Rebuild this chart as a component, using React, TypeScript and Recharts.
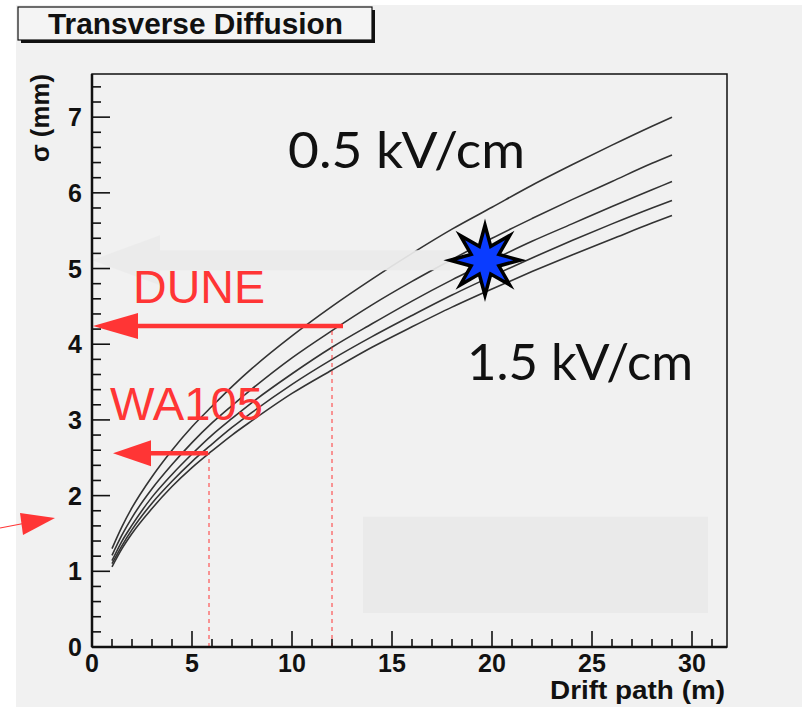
import React from 'react';
import {
  ComposedChart,
  Line,
  Scatter,
  XAxis,
  YAxis,
  ReferenceLine,
  ReferenceArea,
  ReferenceDot,
} from 'recharts';

// ---- data ----
const driftPath = [1, 1.5, 2, 3, 4, 5, 6, 7, 8, 10, 12, 14, 16, 18, 20, 22, 24, 26, 28, 29];
const sigmaA = [1.30, 1.59, 1.84, 2.25, 2.60, 2.91, 3.18, 3.44, 3.68, 4.11, 4.50, 4.86, 5.20, 5.52, 5.81, 6.10, 6.37, 6.63, 6.88, 7.00];
const sigmaB = [1.21, 1.48, 1.71, 2.09, 2.41, 2.70, 2.96, 3.19, 3.41, 3.82, 4.18, 4.52, 4.83, 5.12, 5.40, 5.66, 5.91, 6.15, 6.39, 6.50];
const sigmaC = [1.14, 1.40, 1.61, 1.98, 2.28, 2.55, 2.80, 3.02, 3.23, 3.61, 3.96, 4.27, 4.57, 4.85, 5.11, 5.36, 5.59, 5.82, 6.04, 6.15];
const sigmaD = [1.10, 1.34, 1.55, 1.90, 2.19, 2.45, 2.68, 2.90, 3.10, 3.47, 3.80, 4.10, 4.38, 4.65, 4.90, 5.14, 5.37, 5.59, 5.80, 5.90];
const sigmaE = [1.06, 1.30, 1.50, 1.83, 2.12, 2.37, 2.59, 2.80, 2.99, 3.35, 3.66, 3.96, 4.23, 4.49, 4.73, 4.96, 5.18, 5.39, 5.60, 5.70];

const starPoint = [{ x: 19.65, y: 5.11 }];
const duneArrow = { from: 12.55, to: 0.05, y: 4.24, dropX: 12.0 };
const wa105Arrow = { from: 5.8, to: 1.05, y: 2.56, dropX: 5.85 };
const grayArrow = { from: 17.9, to: 0.0, y: 5.11 };

const xTicks = Array.from({ length: 32 }, (_, i) => i);
const yTicks = Array.from({ length: 38 }, (_, i) => Math.round(i * 2) / 10);

const X_DOMAIN: [number, number] = [0, 31.75];
const Y_DOMAIN: [number, number] = [0, 7.57];

const rows = driftPath.map((x, i) => ({
  x,
  a: sigmaA[i],
  b: sigmaB[i],
  c: sigmaC[i],
  d: sigmaD[i],
  e: sigmaE[i],
}));

const FONT = "'Liberation Sans', Arial, Helvetica, sans-serif";
const RED = '#ff3535';

const isMajor = (v: number, step: number) => Math.abs(v / step - Math.round(v / step)) < 1e-6;

const XTick = (p: any) => {
  const v = p.payload.value;
  const major = isMajor(v, 5);
  return (
    <g>
      <line x1={p.x} x2={p.x} y1={p.y} y2={p.y - (major ? 16 : 8)} stroke="#111" strokeWidth={1.6} />
      {major && (
        <text x={p.x} y={p.y + 25} textAnchor="middle" fontFamily={FONT} fontWeight="bold" fontSize={25} fill="#111">
          {v}
        </text>
      )}
    </g>
  );
};

const YTick = (p: any) => {
  const v = p.payload.value;
  const major = isMajor(v, 1);
  return (
    <g>
      <line x1={p.x} x2={p.x + (major ? 18 : 9)} y1={p.y} y2={p.y} stroke="#111" strokeWidth={1.6} />
      {major && (
        <text x={p.x - 10} y={p.y + 9} textAnchor="end" fontFamily={FONT} fontWeight="bold" fontSize={25} fill="#111">
          {Math.round(v)}
        </text>
      )}
    </g>
  );
};

const redArrowShape = (headLen: number, headHalf: number) => (p: any) => {
  const { x1, y1, x2, y2 } = p;
  const tipX = Math.min(x1, x2);
  const tailX = Math.max(x1, x2);
  const y = y1;
  return (
    <g>
      <line x1={tailX} y1={y} x2={tipX + headLen - 2} y2={y2} stroke={RED} strokeWidth={4.5} />
      <polygon
        points={`${tipX},${y} ${tipX + headLen},${y - headHalf} ${tipX + headLen},${y + headHalf}`}
        fill={RED}
      />
    </g>
  );
};

const grayArrowShape = (p: any) => {
  const { x1, y1, x2 } = p;
  const tipX = Math.min(x1, x2);
  const tailX = Math.max(x1, x2);
  const y = y1;
  const headLen = 68;
  return (
    <g opacity={0.93}>
      <polygon
        points={`${tipX},${y} ${tipX + headLen},${y - 25} ${tipX + headLen},${y - 10} ${tailX},${y - 10} ${tailX},${y + 10} ${tipX + headLen},${y + 10} ${tipX + headLen},${y + 25}`}
        fill="#ebebeb"
      />
    </g>
  );
};

const dashedDrop = (p: any) => (
  <line x1={p.x1} y1={p.y1} x2={p.x2} y2={p.y2} stroke={RED} strokeWidth={1} strokeDasharray="4 4" />
);

const StarShape = (p: any) => {
  const cx = p.cx;
  const cy = p.cy;
  const pts: string[] = [];
  for (let i = 0; i < 16; i++) {
    const ang = (Math.PI / 8) * i - Math.PI / 2;
    const r = i % 2 === 0 ? 35 : 15;
    pts.push(`${cx + r * Math.cos(ang)},${cy + r * Math.sin(ang)}`);
  }
  return <polygon points={pts.join(' ')} fill="#0a3cff" stroke="#000" strokeWidth={3.5} strokeLinejoin="miter" />;
};

const textAt = (label: string, size: number, color: string, family: string, len?: number) => (p: any) => (
  <text
    x={p.cx}
    y={p.cy}
    fontFamily={family}
    fontSize={size}
    fill={color}
    textLength={len}
    lengthAdjust="spacingAndGlyphs"
  >
    {label}
  </text>
);

const XLabel = (p: any) => {
  const vb = p.viewBox;
  return (
    <text
      x={vb.x + vb.width - 2}
      y={vb.y + 52}
      textAnchor="end"
      fontFamily={FONT}
      fontWeight="bold"
      fontSize={25}
      fill="#111"
      textLength={175}
      lengthAdjust="spacingAndGlyphs"
    >
      Drift path (m)
    </text>
  );
};

const YLabel = (p: any) => {
  const vb = p.viewBox;
  const x = vb.x + 37;
  const y = vb.y;
  return (
    <text
      x={x}
      y={y}
      transform={`rotate(-90 ${x} ${y})`}
      textAnchor="end"
      fontFamily={FONT}
      fontWeight="bold"
      fontSize={25}
      fill="#111"
      textLength={88}
      lengthAdjust="spacingAndGlyphs"
    >
      σ (mm)
    </text>
  );
};

const lineKeys = ['a', 'b', 'c', 'd', 'e'];

export default function App() {
  return (
    <div style={{ position: 'absolute', left: 0, top: 0, width: 802, height: 707, background: '#ffffff', overflow: 'hidden' }}>
      <div style={{ position: 'absolute', left: 16, top: 5, right: 0, bottom: 0, background: '#f1f1f1' }} />
      <div style={{ position: 'absolute', left: 0, top: 0 }}>
        <ComposedChart
          width={802}
          height={707}
          data={rows}
          margin={{ top: 74, right: 75, bottom: 0, left: 12 }}
        >
          <ReferenceArea x1={13.55} x2={30.8} y1={0.45} y2={1.72} fill="#eaeaea" fillOpacity={1} stroke="none" ifOverflow="visible" />
          <ReferenceArea x1={0} x2={31.75} y1={0} y2={7.57} fill="none" stroke="#111" strokeWidth={1.5} ifOverflow="visible" />
          <XAxis
            dataKey="x"
            type="number"
            domain={X_DOMAIN}
            allowDataOverflow
            ticks={xTicks}
            interval={0}
            tickSize={0}
            tickMargin={0}
            tickLine={false}
            tick={<XTick />}
            height={60}
            axisLine={{ stroke: '#111', strokeWidth: 2.5 }}
            label={<XLabel />}
          />
          <YAxis
            type="number"
            domain={Y_DOMAIN}
            allowDataOverflow
            ticks={yTicks}
            interval={0}
            tickSize={0}
            tickMargin={0}
            tickLine={false}
            tick={<YTick />}
            width={80}
            axisLine={{ stroke: '#111', strokeWidth: 2.5 }}
            label={<YLabel />}
          />
          {lineKeys.map((k) => (
            <Line
              key={k}
              dataKey={k}
              type="monotone"
              stroke="#333333"
              strokeWidth={1.6}
              dot={false}
              isAnimationActive={false}
            />
          ))}
          <ReferenceLine
            segment={[{ x: grayArrow.from, y: grayArrow.y }, { x: grayArrow.to, y: grayArrow.y }]}
            shape={grayArrowShape}
            ifOverflow="visible"
          />
          <ReferenceLine
            segment={[{ x: duneArrow.dropX, y: 0 }, { x: duneArrow.dropX, y: duneArrow.y }]}
            shape={dashedDrop}
            ifOverflow="visible"
          />
          <ReferenceLine
            segment={[{ x: wa105Arrow.dropX, y: 0 }, { x: wa105Arrow.dropX, y: wa105Arrow.y }]}
            shape={dashedDrop}
            ifOverflow="visible"
          />
          <ReferenceLine
            segment={[{ x: duneArrow.from, y: duneArrow.y }, { x: duneArrow.to, y: duneArrow.y }]}
            shape={redArrowShape(45, 13)}
            ifOverflow="visible"
          />
          <ReferenceLine
            segment={[{ x: wa105Arrow.from, y: wa105Arrow.y }, { x: wa105Arrow.to, y: wa105Arrow.y }]}
            shape={redArrowShape(38, 13)}
            ifOverflow="visible"
          />
          <ReferenceDot x={2.05} y={4.54} r={0} ifOverflow="visible" shape={textAt('DUNE', 47, RED, FONT, 132)} />
          <ReferenceDot x={0.9} y={3.0} r={0} ifOverflow="visible" shape={textAt('WA105', 47, RED, FONT, 153)} />
          <ReferenceDot x={9.8} y={6.33} r={0} ifOverflow="visible" shape={textAt('0.5 kV/cm', 50, '#111', "Lato, 'Open Sans', sans-serif", 237)} />
          <ReferenceDot x={18.75} y={3.53} r={0} ifOverflow="visible" shape={textAt('1.5 kV/cm', 50, '#111', "Lato, 'Open Sans', sans-serif", 226)} />
          <Scatter data={starPoint} dataKey="y" shape={<StarShape />} isAnimationActive={false} />
        </ComposedChart>
      </div>
      <svg width={802} height={707} style={{ position: 'absolute', left: 0, top: 0, pointerEvents: 'none' }}>
        <rect x={21} y={10} width={354} height={33} fill="#111" />
        <rect x={18} y={7} width={354} height={33} fill="#f4f4f4" stroke="#111" strokeWidth={1.2} />
        <text
          x={48}
          y={34}
          fontFamily={FONT}
          fontWeight="bold"
          fontSize={30}
          fill="#111"
          textLength={295}
          lengthAdjust="spacingAndGlyphs"
        >
          Transverse Diffusion
        </text>
        <line x1={0} y1={528} x2={26} y2={523} stroke={RED} strokeWidth={1.2} />
        <polygon points="20,513 55,518 23,535" fill={RED} />
      </svg>
    </div>
  );
}
